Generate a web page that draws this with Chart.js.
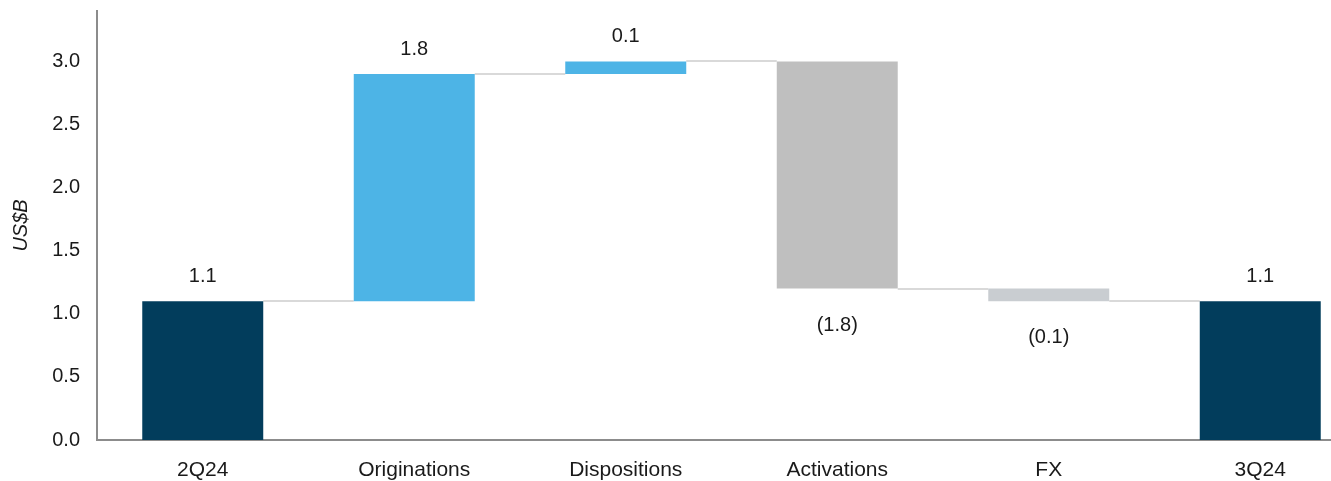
<!DOCTYPE html>
<html>
<head>
<meta charset="utf-8">
<script src="https://cdn.jsdelivr.net/npm/chart.js@4.4.1/dist/chart.umd.min.js"></script>
<style>
html,body{margin:0;padding:0;background:#fff;overflow:hidden;width:1331px;height:481px;}
#wrap{position:absolute;left:0;top:0;width:1366px;height:481px;}
</style>
</head>
<body>
<div id="wrap"><canvas id="c" width="1366" height="481"></canvas></div>
<script>
// ---- data ----
const categories = ["2Q24", "Originations", "Dispositions", "Activations", "FX", "3Q24"];
const barStart = [0, 1.1, 2.9, 3.0, 1.2, 0];
const barEnd = [1.1, 2.9, 3.0, 1.2, 1.1, 1.1];
const valueLabels = ["1.1", "1.8", "0.1", "(1.8)", "(0.1)", "1.1"];
const barColors = ["#023D5C", "#4DB4E6", "#4DB4E6", "#BFBFBF", "#C9CDD1", "#023D5C"];
const yTicks = [0, 0.5, 1.0, 1.5, 2.0, 2.5, 3.0];
const yAxisTitle = "US$B";

const FONT = "'Liberation Sans', Arial, sans-serif";
const FS = 20;

const overlay = {
  id: "overlay",
  beforeDatasetsDraw(chart) {
    const ctx = chart.ctx;
    const meta = chart.getDatasetMeta(0);
    const y = chart.scales.y;
    ctx.save();
    ctx.strokeStyle = "#D9D9D9";
    ctx.lineWidth = 2;
    for (let i = 0; i < categories.length - 1; i++) {
      const a = meta.data[i], b = meta.data[i + 1];
      const py = Math.round(y.getPixelForValue(barEnd[i]));
      ctx.beginPath();
      ctx.moveTo(a.x + a.width / 2, py);
      ctx.lineTo(b.x - b.width / 2, py);
      ctx.stroke();
    }
    ctx.restore();
  },
  afterDatasetsDraw(chart) {
    const ctx = chart.ctx;
    const meta = chart.getDatasetMeta(0);
    const y = chart.scales.y;
    ctx.save();
    ctx.font = FS + "px " + FONT;
    ctx.fillStyle = "#1a1a1a";
    ctx.textAlign = "center";
    ctx.textBaseline = "middle";
    for (let i = 0; i < categories.length; i++) {
      const el = meta.data[i];
      const top = y.getPixelForValue(Math.max(barStart[i], barEnd[i]));
      const bot = y.getPixelForValue(Math.min(barStart[i], barEnd[i]));
      const neg = barEnd[i] < barStart[i];
      const py = neg ? bot + 36.5 : top - 25;
      ctx.fillText(valueLabels[i], el.x, py);
    }
    ctx.restore();
  }
};

new Chart(document.getElementById("c"), {
  type: "bar",
  data: {
    labels: categories,
    datasets: [{
      data: categories.map((c, i) => [barStart[i], barEnd[i]]),
      backgroundColor: barColors,
      borderWidth: 0,
      barPercentage: 0.572,
      categoryPercentage: 1.0
    }]
  },
  options: {
    responsive: false,
    animation: false,
    layout: { padding: { top: 11, right: 0, left: 0, bottom: 0 } },
    plugins: { legend: { display: false }, tooltip: { enabled: false } },
    scales: {
      x: {
        grid: { display: false, drawTicks: false },
        border: { display: true, color: "#8C8C8C", width: 2 },
        ticks: { color: "#1a1a1a", font: { family: FONT, size: 21 }, padding: 18, maxRotation: 0, autoSkip: false },
        afterFit(s) { s.height = 41; s.paddingLeft = 0; s.paddingRight = 0; }
      },
      y: {
        min: 0,
        max: 3.4,
        grid: { display: false, drawTicks: false },
        border: { display: true, color: "#8C8C8C", width: 2 },
        afterBuildTicks(s) { s.ticks = yTicks.map(v => ({ value: v })); },
        ticks: {
          color: "#1a1a1a",
          font: { family: FONT, size: FS },
          padding: 17,
          callback: v => Number(v).toFixed(1)
        },
        title: {
          display: true,
          text: yAxisTitle,
          color: "#1a1a1a",
          font: { family: FONT, size: FS, style: "italic" },
          padding: { top: 9, bottom: 0 }
        },
        afterFit(s) { s.width = 97; s.paddingTop = 0; s.paddingBottom = 0; }
      }
    }
  },
  plugins: [overlay]
});
</script>
</body>
</html>
